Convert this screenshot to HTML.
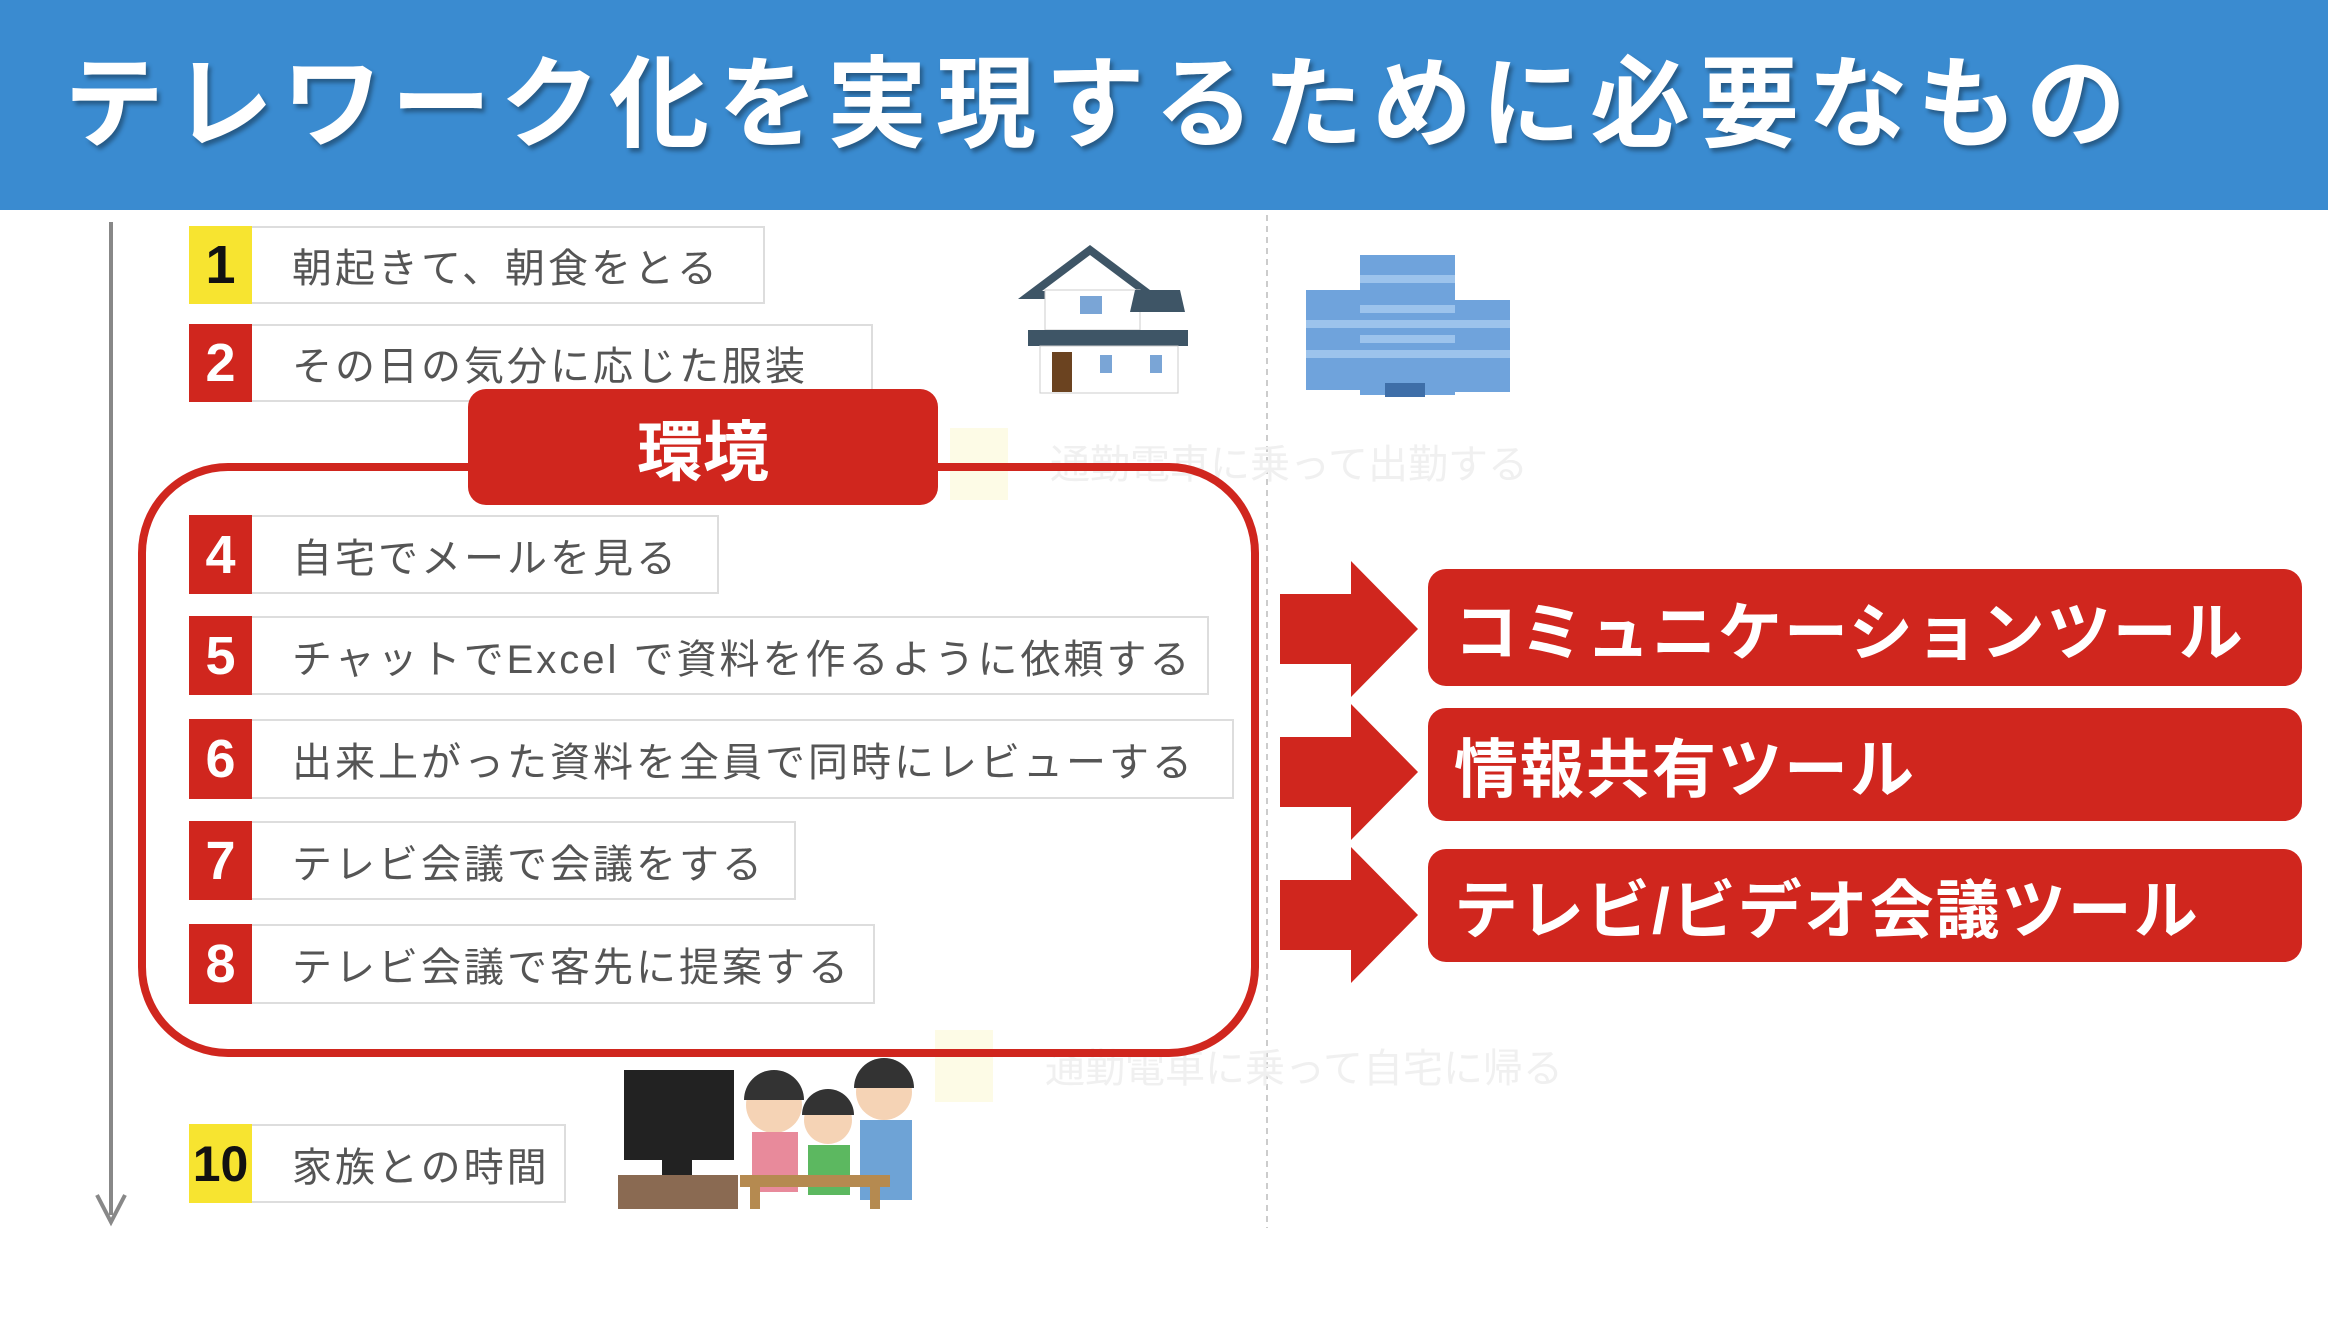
<!DOCTYPE html>
<html><head><meta charset="utf-8"><style>
*{margin:0;padding:0;box-sizing:border-box}
body{width:2328px;height:1328px;background:#fff;position:relative;overflow:hidden;font-family:"Liberation Sans","Noto Sans CJK JP",sans-serif}
.a{position:absolute}
.hdr{left:0;top:0;width:2328px;height:210px;background:#3a8bd0}
.title{left:64px;top:40px;font-size:100px;font-weight:bold;color:#fff;letter-spacing:9px;white-space:nowrap;text-shadow:3px 4px 4px rgba(0,0,0,.35);line-height:130px}
.num{width:63px;font-size:54px;font-weight:bold;display:flex;align-items:center;justify-content:center}
.red{background:#d0261e;color:#fff}
.yel{background:#f7e430;color:#111}
.lbl{border:2px solid #ddd;border-left:none;background:#fff;font-size:40px;color:#555;padding-left:40px;display:flex;align-items:center;white-space:nowrap;letter-spacing:3px}
.tool{left:1428px;width:874px;background:#d0261e;border-radius:18px;color:#fff;font-weight:bold;font-size:64px;display:flex;align-items:center;padding-left:26px;white-space:nowrap;letter-spacing:2px}
.faint{color:#f0f0f0;font-size:40px;white-space:nowrap}
</style></head><body>
<div class="a hdr"></div>
<div class="a title">テレワーク化を実現するために必要なもの</div>

<svg class="a" style="left:0;top:0" width="2328" height="1328">
 <line x1="111" y1="222" x2="111" y2="1215" stroke="#888" stroke-width="4"/>
 <polyline points="97,1195 111,1222 125,1195" fill="none" stroke="#888" stroke-width="4"/>
 <line x1="1267" y1="215" x2="1267" y2="1228" stroke="#ccc" stroke-width="2" stroke-dasharray="6,5"/>
 <polygon points="1280,594 1351,594 1351,561 1418,629 1351,697 1351,664 1280,664" fill="#d0261e"/>
 <polygon points="1280,737 1351,737 1351,704 1418,772 1351,840 1351,807 1280,807" fill="#d0261e"/>
 <polygon points="1280,880 1351,880 1351,847 1418,915 1351,983 1351,950 1280,950" fill="#d0261e"/>
 <g>
  <polygon points="1030,295 1090,250 1150,295" fill="#fff" stroke="#3e5566" stroke-width="8"/>
  <rect x="1045" y="290" width="95" height="40" fill="#fff" stroke="#ccc"/>
  <rect x="1080" y="296" width="22" height="18" fill="#7aa5d6"/>
  <polygon points="1135,290 1180,290 1185,312 1130,312" fill="#3e5566"/>
  <rect x="1028" y="330" width="160" height="16" fill="#3e5566"/>
  <rect x="1040" y="346" width="138" height="47" fill="#fff" stroke="#ccc"/>
  <rect x="1052" y="352" width="20" height="40" fill="#6b4320"/>
  <rect x="1100" y="355" width="12" height="18" fill="#7aa5d6"/>
  <rect x="1150" y="355" width="12" height="18" fill="#7aa5d6"/>
 </g>
 <g fill="#6fa3dc">
  <rect x="1360" y="255" width="95" height="140"/>
  <rect x="1306" y="290" width="60" height="100"/>
  <rect x="1450" y="300" width="60" height="92"/>
  <g fill="#9cc3ec"><rect x="1360" y="275" width="95" height="8"/><rect x="1360" y="305" width="95" height="8"/><rect x="1360" y="335" width="95" height="8"/><rect x="1306" y="320" width="204" height="8"/><rect x="1306" y="350" width="204" height="8"/></g>
  <rect x="1385" y="383" width="40" height="14" fill="#3e6ea8"/>
 </g>
 <g>
  <rect x="624" y="1070" width="110" height="90" fill="#222"/>
  <rect x="662" y="1160" width="30" height="15" fill="#222"/>
  <rect x="618" y="1175" width="120" height="34" fill="#8a6a52"/>
  <circle cx="774" cy="1105" r="28" fill="#f5d3b5"/><path d="M744,1100 a30,30 0 0 1 60,0 z" fill="#333"/>
  <rect x="752" y="1132" width="46" height="60" fill="#e88a9b"/>
  <circle cx="828" cy="1120" r="24" fill="#f5d3b5"/><path d="M802,1115 a26,26 0 0 1 52,0 z" fill="#333"/>
  <rect x="808" y="1145" width="42" height="50" fill="#5cb860"/>
  <circle cx="884" cy="1092" r="28" fill="#f5d3b5"/><path d="M854,1088 a30,30 0 0 1 60,0 z" fill="#333"/>
  <rect x="860" y="1120" width="52" height="80" fill="#6ea3d6"/>
  <rect x="740" y="1175" width="150" height="12" fill="#b58a50"/>
  <rect x="750" y="1187" width="10" height="22" fill="#b58a50"/><rect x="870" y="1187" width="10" height="22" fill="#b58a50"/>
 </g>
</svg>

<div class="a" style="left:950px;top:428px;width:58px;height:72px;background:#fdfbe6"></div>
<div class="a faint" style="left:1050px;top:432px">通勤電車に乗って出勤する</div>
<div class="a" style="left:935px;top:1030px;width:58px;height:72px;background:#fdfbe6"></div>
<div class="a faint" style="left:1045px;top:1036px">通勤電車に乗って自宅に帰る</div>

<div class="a num yel" style="left:189px;top:226px;height:78px">1</div>
<div class="a lbl" style="left:252px;top:226px;width:513px;height:78px">朝起きて、朝食をとる</div>
<div class="a num red" style="left:189px;top:324px;height:78px">2</div>
<div class="a lbl" style="left:252px;top:324px;width:621px;height:78px">その日の気分に応じた服装</div>

<div class="a" style="left:138px;top:463px;width:1121px;height:594px;border:8px solid #d0261e;border-radius:90px"></div>
<div class="a" style="left:468px;top:389px;width:470px;height:116px;background:#d0261e;border-radius:18px;color:#fff;font-weight:bold;font-size:66px;display:flex;align-items:center;justify-content:center">環境</div>

<div class="a num red" style="left:189px;top:515px;height:79px">4</div>
<div class="a lbl" style="left:252px;top:515px;width:467px;height:79px">自宅でメールを見る</div>
<div class="a num red" style="left:189px;top:616px;height:79px">5</div>
<div class="a lbl" style="left:252px;top:616px;width:957px;height:79px">チャットでExcel で資料を作るように依頼する</div>
<div class="a num red" style="left:189px;top:719px;height:80px">6</div>
<div class="a lbl" style="left:252px;top:719px;width:982px;height:80px">出来上がった資料を全員で同時にレビューする</div>
<div class="a num red" style="left:189px;top:821px;height:79px">7</div>
<div class="a lbl" style="left:252px;top:821px;width:544px;height:79px">テレビ会議で会議をする</div>
<div class="a num red" style="left:189px;top:924px;height:80px">8</div>
<div class="a lbl" style="left:252px;top:924px;width:623px;height:80px">テレビ会議で客先に提案する</div>

<div class="a num yel" style="left:189px;top:1124px;height:79px;font-size:50px">10</div>
<div class="a lbl" style="left:252px;top:1124px;width:314px;height:79px">家族との時間</div>

<div class="a tool" style="top:569px;height:117px">コミュニケーションツール</div>
<div class="a tool" style="top:708px;height:113px">情報共有ツール</div>
<div class="a tool" style="top:849px;height:113px">テレビ/ビデオ会議ツール</div>
</body></html>
